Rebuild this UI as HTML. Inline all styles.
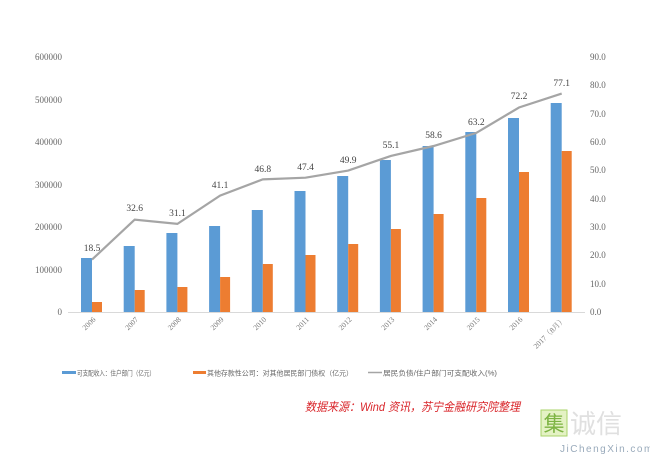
<!DOCTYPE html>
<html><head><meta charset="utf-8"><style>
html,body{margin:0;padding:0;background:#fff}
svg{display:block}
text{font-family:"Liberation Serif","Noto Serif CJK SC",serif}
</style></head><body>
<svg width="650" height="455" viewBox="0 0 650 455" xmlns="http://www.w3.org/2000/svg">
<rect width="650" height="455" fill="#fff"/>
<line x1="68" y1="312.5" x2="585" y2="312.5" stroke="#d9d9d9" stroke-width="1"/>
<g font-size="9" fill="#666" text-anchor="end">
<text x="62" y="60">600000</text><text x="62" y="103">500000</text><text x="62" y="145">400000</text>
<text x="62" y="188">300000</text><text x="62" y="230">200000</text><text x="62" y="273">100000</text><text x="62" y="315">0</text>
</g>
<g font-size="9" fill="#666">
<text x="590" y="60">90.0</text><text x="590" y="88">80.0</text><text x="590" y="117">70.0</text>
<text x="590" y="145">60.0</text><text x="590" y="173">50.0</text><text x="590" y="202">40.0</text>
<text x="590" y="230">30.0</text><text x="590" y="258">20.0</text><text x="590" y="287">10.0</text><text x="590" y="315">0.0</text>
</g>
<g fill="#5b9bd5">
<rect x="81" y="258" width="11" height="54"/><rect x="123.7" y="246" width="11" height="66"/>
<rect x="166.4" y="233" width="11" height="79"/><rect x="209.1" y="226" width="11" height="86"/>
<rect x="251.8" y="210" width="11" height="102"/><rect x="294.5" y="191" width="11" height="121"/>
<rect x="337.2" y="176" width="11" height="136"/><rect x="379.9" y="160" width="11" height="152"/>
<rect x="422.6" y="146" width="11" height="166"/><rect x="465.3" y="132" width="11" height="180"/>
<rect x="508" y="118" width="11" height="194"/><rect x="550.7" y="103" width="11" height="209"/>
</g>
<g fill="#ed7d31">
<rect x="92" y="302" width="10" height="10"/><rect x="134.7" y="290" width="10" height="22"/>
<rect x="177.4" y="287" width="10" height="25"/><rect x="220.1" y="277" width="10" height="35"/>
<rect x="262.8" y="264" width="10" height="48"/><rect x="305.5" y="255" width="10" height="57"/>
<rect x="348.2" y="244" width="10" height="68"/><rect x="390.9" y="229" width="10" height="83"/>
<rect x="433.6" y="214" width="10" height="98"/><rect x="476.3" y="198" width="10" height="114"/>
<rect x="519" y="172" width="10" height="140"/><rect x="561.7" y="151" width="10" height="161"/>
</g>
<polyline fill="none" stroke="#a5a5a5" stroke-width="2.2" points="92,259.6 134.7,219.6 177.4,223.9 220.1,195.6 262.8,179.4 305.5,177.7 348.2,170.6 390.9,155.9 433.6,146 476.3,132.9 519,107.5 561.7,93.6"/>
<g font-size="9.5" fill="#444" text-anchor="middle">
<text x="92" y="251">18.5</text><text x="134.7" y="211">32.6</text><text x="177.4" y="216">31.1</text>
<text x="220.1" y="188">41.1</text><text x="262.8" y="172">46.8</text><text x="305.5" y="170">47.4</text>
<text x="348.2" y="163">49.9</text><text x="390.9" y="148">55.1</text><text x="433.6" y="138">58.6</text>
<text x="476.3" y="125">63.2</text><text x="519" y="99">72.2</text><text x="561.7" y="86">77.1</text>
</g>
<g font-size="7.5" fill="#777" text-anchor="end">
<text transform="translate(96,320) rotate(-45)">2006</text>
<text transform="translate(138.7,320) rotate(-45)">2007</text>
<text transform="translate(181.4,320) rotate(-45)">2008</text>
<text transform="translate(224.1,320) rotate(-45)">2009</text>
<text transform="translate(266.8,320) rotate(-45)">2010</text>
<text transform="translate(309.5,320) rotate(-45)">2011</text>
<text transform="translate(352.2,320) rotate(-45)">2012</text>
<text transform="translate(394.9,320) rotate(-45)">2013</text>
<text transform="translate(437.6,320) rotate(-45)">2014</text>
<text transform="translate(480.3,320) rotate(-45)">2015</text>
<text transform="translate(523,320) rotate(-45)">2016</text>
<text transform="translate(565.7,320) rotate(-45)">2017（8月）</text>
</g>
<g font-size="7" fill="#666">
<rect x="62" y="371" width="14" height="3" fill="#5b9bd5"/>
<text x="77" y="375.5" textLength="78" lengthAdjust="spacingAndGlyphs" style="font-family:'Liberation Sans','Noto Sans CJK SC',sans-serif">可支配收入：住户部门（亿元）</text>
<rect x="193" y="371" width="13" height="3" fill="#ed7d31"/>
<text x="207" y="375.5" textLength="146" lengthAdjust="spacingAndGlyphs" style="font-family:'Liberation Sans','Noto Sans CJK SC',sans-serif">其他存款性公司：对其他居民部门债权（亿元）</text>
<line x1="368" y1="372.5" x2="382" y2="372.5" stroke="#a5a5a5" stroke-width="1.5"/>
<text x="383" y="375.5" textLength="114" lengthAdjust="spacingAndGlyphs" style="font-family:'Liberation Sans','Noto Sans CJK SC',sans-serif">居民负债/住户部门可支配收入(%)</text>
</g>
<text x="305" y="411" font-size="12" fill="#d9262b" font-style="italic" textLength="215" lengthAdjust="spacingAndGlyphs" style="font-family:'Liberation Sans','Noto Sans CJK SC',sans-serif">数据来源：Wind 资讯，苏宁金融研究院整理</text>
<rect x="541" y="410" width="26" height="26" fill="#e4f2c4" stroke="#a9d36a" stroke-width="1"/>
<text x="554" y="431" font-size="21" fill="#7cb342" text-anchor="middle" style="font-family:'Noto Sans CJK SC',sans-serif">集</text>
<text x="570" y="433" font-size="26" fill="#e0e0e0" style="font-family:'Noto Sans CJK SC',sans-serif">诚信</text>
<text x="560" y="452" font-size="10" fill="#9ab" letter-spacing="1.5" style="font-family:'Liberation Sans',sans-serif">JiChengXin.com</text>
</svg>
</body></html>
